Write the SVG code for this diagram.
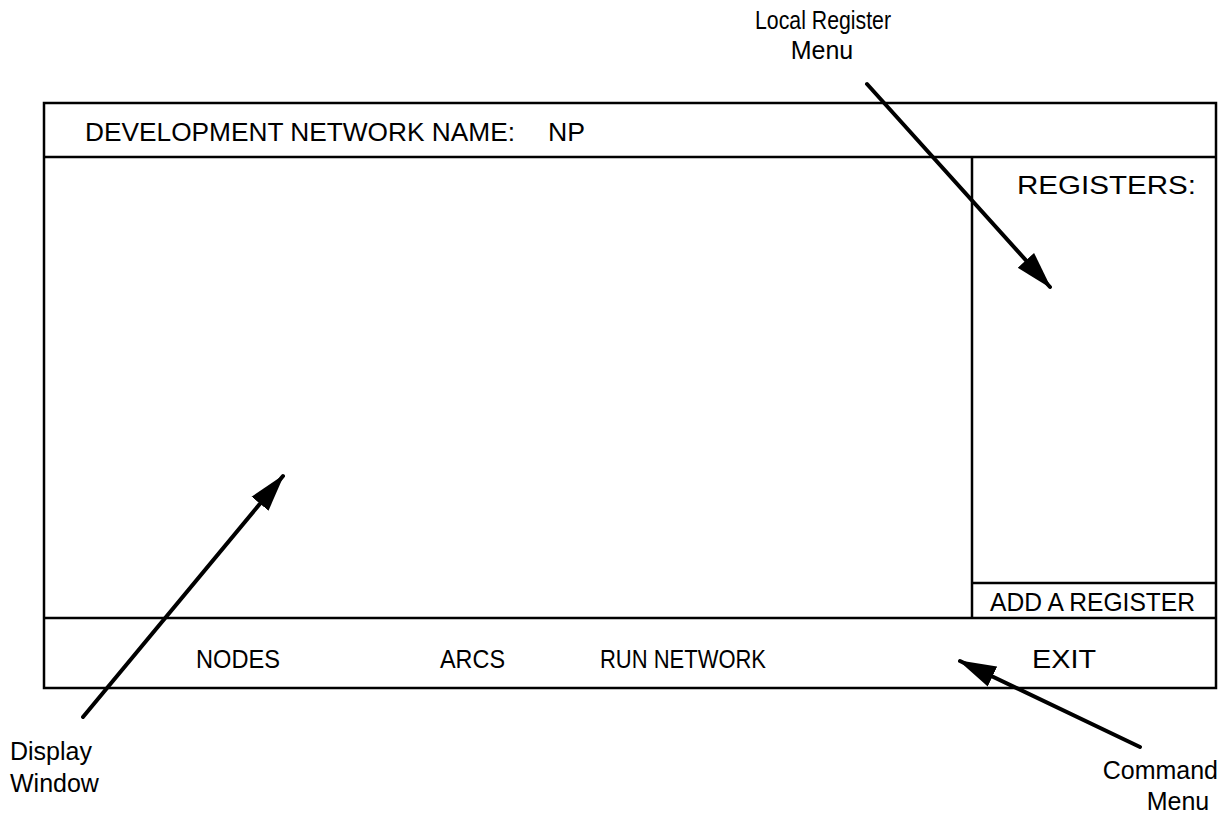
<svg xmlns="http://www.w3.org/2000/svg" width="1223" height="816" viewBox="0 0 1223 816">
<style>
.ln{stroke:#000;stroke-width:2.5;fill:none}
.t{font-family:"Liberation Sans",Arial,sans-serif;font-size:26px;fill:#000}
.lb{font-family:"Liberation Sans",Arial,sans-serif;font-size:25px;fill:#000}
.arr{stroke:#000;stroke-width:4;fill:none;stroke-linecap:round}
</style>
<defs>
<marker id="ah" markerUnits="userSpaceOnUse" markerWidth="38" markerHeight="24" refX="36" refY="12" orient="auto">
<path d="M0,1 L38,12 L0,23 Z" fill="#000"/>
</marker>
</defs>
<rect width="1223" height="816" fill="#fff"/>
<g id="screen">
<rect class="ln" x="44" y="103" width="1172" height="585"/>
<line class="ln" x1="44" y1="157" x2="1216" y2="157"/>
<line class="ln" x1="44" y1="618" x2="1216" y2="618"/>
<line class="ln" x1="972" y1="157" x2="972" y2="618"/>
<line class="ln" x1="972" y1="583" x2="1216" y2="583"/>
</g>
<g id="header"><text class="t" x="85" y="141" textLength="430" lengthAdjust="spacingAndGlyphs">DEVELOPMENT NETWORK NAME:</text><text class="t" x="548" y="141" textLength="37" lengthAdjust="spacingAndGlyphs">NP</text></g>
<g id="registers"><text class="t" x="1017" y="194" textLength="179" lengthAdjust="spacingAndGlyphs">REGISTERS:</text></g>
<g id="add-register"><text class="t" x="990" y="611" textLength="205" lengthAdjust="spacingAndGlyphs">ADD A REGISTER</text></g>
<g id="cmd-nodes"><text class="t" x="196" y="668" textLength="84" lengthAdjust="spacingAndGlyphs">NODES</text></g>
<g id="cmd-arcs"><text class="t" x="440" y="668" textLength="65" lengthAdjust="spacingAndGlyphs">ARCS</text></g>
<g id="cmd-run"><text class="t" x="600" y="668" textLength="166" lengthAdjust="spacingAndGlyphs">RUN NETWORK</text></g>
<g id="cmd-exit"><text class="t" x="1032" y="668" textLength="64" lengthAdjust="spacingAndGlyphs">EXIT</text></g>
<g id="label-local"><text class="lb" x="823" y="29" text-anchor="middle" textLength="136" lengthAdjust="spacingAndGlyphs">Local Register</text><text class="lb" x="822" y="59" text-anchor="middle">Menu</text></g>
<g id="label-display"><text class="lb" x="10" y="760">Display</text><text class="lb" x="10" y="792">Window</text></g>
<g id="label-command"><text class="lb" x="1218" y="779" text-anchor="end">Command</text><text class="lb" x="1178" y="810" text-anchor="middle">Menu</text></g>
<g id="connectors">
<line class="arr" x1="867" y1="84" x2="1050" y2="287" marker-end="url(#ah)"/>
<line class="arr" x1="83" y1="717" x2="283" y2="476" marker-end="url(#ah)"/>
<line class="arr" x1="1140" y1="747" x2="960" y2="661" marker-end="url(#ah)"/>
</g>
</svg>
